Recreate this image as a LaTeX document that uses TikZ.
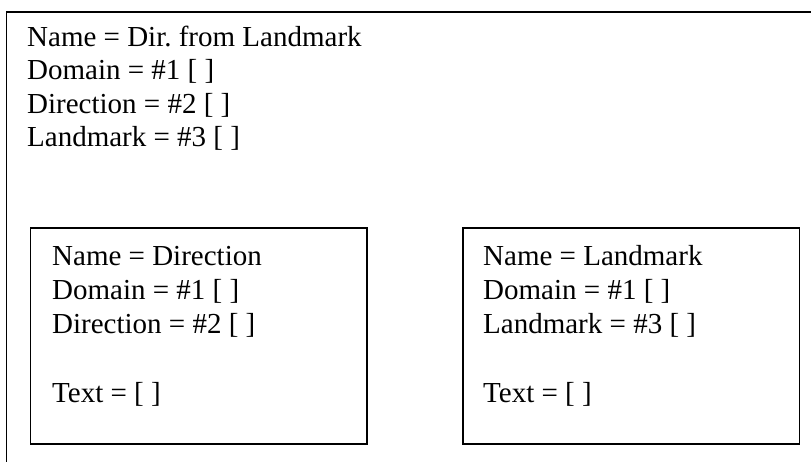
\documentclass[tikz,border=0pt]{standalone}
\usepackage{fontspec}
\setmainfont{Liberation Serif}
\frenchspacing
\begin{document}
\begin{tikzpicture}[x=1pt,y=-1pt,
  frame/.style={draw=black,line width=1.8pt},
  slot/.style={draw=black,line width=1.4pt},
  entry/.style={anchor=base west,inner sep=0pt,font=\fontsize{29}{34}\selectfont}]
\useasboundingbox (0,0) rectangle (811,461);
\clip (0,0) rectangle (811,461);

% outer frame (continues past the page edge)
\draw[frame] (820,12) -- (6.5,12) -- (6.5,470);

% composite concept
\node[entry] (t1) at (27,46)    {Name = Dir.\ from Landmark};
\node[entry] (t2) at (27,79.5)  {Domain = \#1 [ ]};
\node[entry] (t3) at (27,113)   {Direction = \#2 [ ]};
\node[entry] (t4) at (27,146.5) {Landmark = \#3 [ ]};

% component boxes
\draw[slot] (30.5,228) rectangle (367,444);
\draw[slot] (463,228) rectangle (799.5,444);

\node[entry] (l1) at (52,265) {Name = Direction};
\node[entry] (l2) at (52,299) {Domain = \#1 [ ]};
\node[entry] (l3) at (52,333) {Direction = \#2 [ ]};
\node[entry] (l4) at (52,402) {Text = [ ]};

\node[entry] (r1) at (483,265) {Name = Landmark};
\node[entry] (r2) at (483,299) {Domain = \#1 [ ]};
\node[entry] (r3) at (483,333) {Landmark = \#3 [ ]};
\node[entry] (r4) at (483,402) {Text = [ ]};
\end{tikzpicture}
\end{document}
